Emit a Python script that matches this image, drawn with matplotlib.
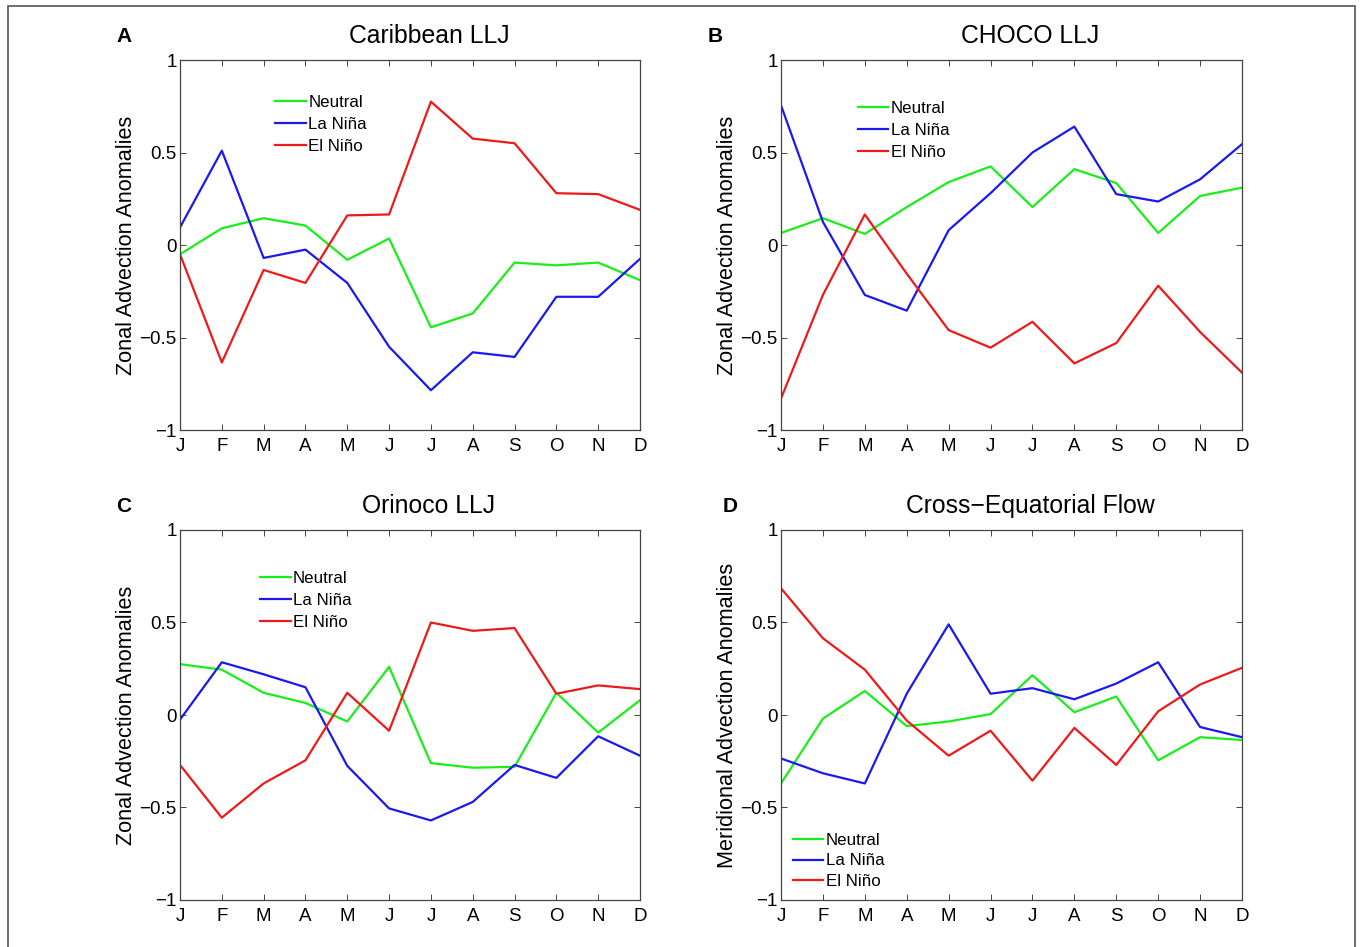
import numpy as np
from matplotlib import pyplot as plt
from matplotlib.patches import Rectangle

plt.rcParams['font.family'] = ['Liberation Sans', 'DejaVu Sans']

# DATA
months = ["J", "F", "M", "A", "M", "J", "J", "A", "S", "O", "N", "D"]

# A: Caribbean LLJ
carib_neutral = [-0.05, 0.09, 0.145, 0.105, -0.08, 0.035, -0.445, -0.37, -0.095, -0.11, -0.095, -0.19]
carib_nina = [0.095, 0.51, -0.07, -0.025, -0.205, -0.55, -0.785, -0.58, -0.605, -0.28, -0.28, -0.075]
carib_nino = [-0.05, -0.635, -0.135, -0.205, 0.16, 0.165, 0.775, 0.575, 0.55, 0.28, 0.275, 0.19]

# B: CHOCO LLJ
choco_neutral = [0.065, 0.145, 0.06, 0.205, 0.34, 0.425, 0.205, 0.41, 0.335, 0.065, 0.265, 0.31]
choco_nina = [0.755, 0.125, -0.27, -0.355, 0.08, 0.28, 0.5, 0.64, 0.275, 0.235, 0.355, 0.545]
choco_nino = [-0.83, -0.27, 0.165, -0.155, -0.46, -0.555, -0.415, -0.64, -0.53, -0.22, -0.47, -0.69]

# C: Orinoco LLJ
orin_neutral = [0.275, 0.245, 0.12, 0.065, -0.035, 0.26, -0.26, -0.285, -0.28, 0.12, -0.095, 0.08]
orin_nina = [-0.025, 0.285, 0.22, 0.15, -0.275, -0.505, -0.57, -0.47, -0.27, -0.34, -0.115, -0.22]
orin_nino = [-0.27, -0.555, -0.37, -0.245, 0.12, -0.085, 0.5, 0.455, 0.47, 0.115, 0.16, 0.14]

# D: Cross-Equatorial Flow
cross_neutral = [-0.37, -0.02, 0.13, -0.06, -0.035, 0.005, 0.215, 0.015, 0.1, -0.245, -0.12, -0.135]
cross_nina = [-0.235, -0.315, -0.37, 0.115, 0.49, 0.115, 0.145, 0.085, 0.17, 0.285, -0.065, -0.12]
cross_nino = [0.685, 0.415, 0.245, -0.03, -0.22, -0.085, -0.355, -0.07, -0.27, 0.02, 0.165, 0.255]

series_names = ["Neutral", "La Niña", "El Niño"]
titles = ["Caribbean LLJ", "CHOCO LLJ", "Orinoco LLJ", "Cross\u2212Equatorial Flow"]
letters = ["A", "B", "C", "D"]
ylabels = ["Zonal Advection Anomalies", "Zonal Advection Anomalies",
           "Zonal Advection Anomalies", "Meridional Advection Anomalies"]
yticks = [-1, -0.5, 0, 0.5, 1]
yticklabels = ["\u22121", "\u22120.5", "0", "0.5", "1"]

panels = [
    [carib_neutral, carib_nina, carib_nino],
    [choco_neutral, choco_nina, choco_nino],
    [orin_neutral, orin_nina, orin_nino],
    [cross_neutral, cross_nina, cross_nino],
]

colors = ["#1aee1a", "#1a1aee", "#ee1a1a"]

W, H = 1360, 947
fig = plt.figure(figsize=(W / 100, H / 100), dpi=100)

# axes boxes in pixels (left, top, right, bottom)
boxes = [(180, 60, 640, 430), (781, 60, 1242, 430),
         (180, 530, 640, 900), (781, 530, 1242, 900)]
legend_pos = [(0.207, 0.905), (0.167, 0.890), (0.174, 0.890), (0.026, 0.180)]
letter_pos = [(116, 37), (708, 37), (116, 507), (723, 507)]
ylabel_x = [137, 738, 137, 738]
title_x = [429, 1030, 429, 1030]

x = np.arange(12)
for i in range(4):
    l, t, r, b = boxes[i]
    ax = fig.add_axes([l / W, 1 - b / H, (r - l) / W, (b - t) / H])
    for k in range(3):
        ax.plot(x, panels[i][k], color=colors[k], lw=1.6, label=series_names[k])
    ax.set_xlim(0, 11)
    ax.set_ylim(-1, 1)
    ax.set_xticks(x)
    ax.set_xticklabels(months, fontsize=13.5)
    ax.set_yticks(yticks)
    ax.set_yticklabels(yticklabels, fontsize=13.5)
    ax.tick_params(direction="in", length=4, width=0.7, top=True, right=True,
                   colors="#444444", labelcolor="black")
    ax.tick_params(axis="x", pad=5.5)
    ax.tick_params(axis="y", pad=2.5)
    for s in ax.spines.values():
        s.set_color("#444444")
        s.set_linewidth(0.9)
    ax.set_title(titles[i], fontsize=17.8, pad=12, x=(title_x[i] - l) / (r - l))
    ax.set_ylabel(ylabels[i], fontsize=15.6)
    ax.yaxis.set_label_coords((ylabel_x[i] - l) / (r - l), 0.5)
    leg = ax.legend(loc="upper left", bbox_to_anchor=legend_pos[i], frameon=False,
                    fontsize=12.2, handlelength=1.8, handletextpad=0.15,
                    labelspacing=0.42 if i < 3 else 0.3, borderpad=0, borderaxespad=0)
    fig.text(letter_pos[i][0] / W, 1 - letter_pos[i][1] / H, letters[i],
             fontsize=15, fontweight="bold", va="center", ha="left")

# outer frame
fig.patches.append(Rectangle((8 / W, -0.02), (1355 - 8) / W, 1 - 6 / H + 0.02,
                             transform=fig.transFigure, fill=False,
                             edgecolor="#555555", lw=1.2))

fig.savefig("out.png", dpi=100)
